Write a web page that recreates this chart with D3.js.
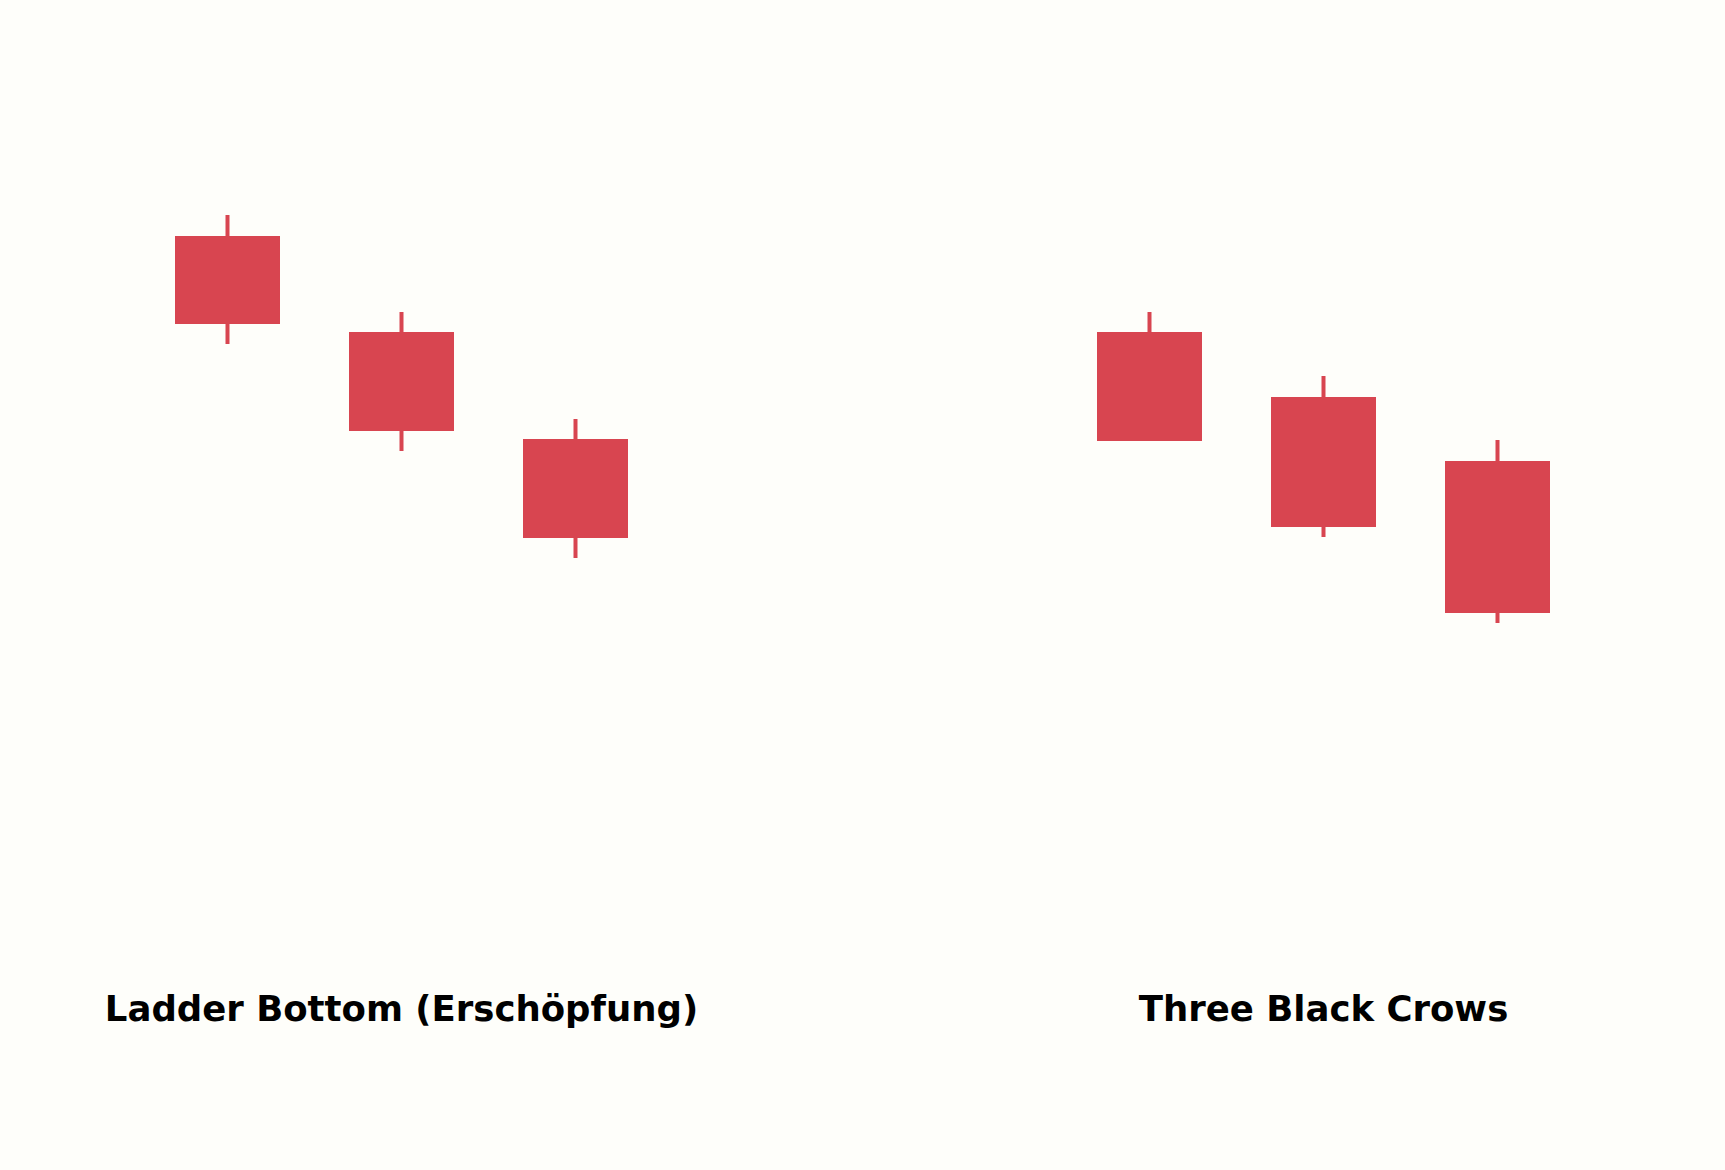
<!DOCTYPE html>
<html>
<head>
<meta charset="utf-8">
<script src="https://cdn.jsdelivr.net/npm/d3@7"></script>
<style>
  body { margin: 0; background: #fefefa; }
  svg { display: block; }
</style>
</head>
<body>
<div id="chart"></div>
<script>
// Panel titles
let patterns = ['Ladder Bottom (Erschöpfung)', 'Three Black Crows'];

// Candles per pattern (open, high, low, close)
let ladderOpen  = [97.9, 88.3, 77.6];
let ladderHigh  = [100.0, 90.3, 79.6];
let ladderLow   = [87.1, 76.4, 65.7];
let ladderClose = [89.1, 78.4, 67.7];

let crowsOpen  = [88.3, 81.8, 75.4];
let crowsHigh  = [90.3, 83.9, 77.5];
let crowsLow   = [77.4, 67.8, 59.2];
let crowsClose = [77.4, 68.8, 60.2];

let svgWidth = 1725;
let svgHeight = 1170;

let svg = d3.select('#chart')
    .append('svg')
    .attr('width', svgWidth)
    .attr('height', svgHeight);

svg.append('rect')
    .attr('width', svgWidth)
    .attr('height', svgHeight)
    .attr('fill', '#fefefa');

// shared price scale
let yScale = d3.scaleLinear()
    .domain([0, 100])
    .range([1215, 215]);

let candleColor = '#d84550';
let bodyWidth = 105;

// centres of the two panels
let panelX = d3.scalePoint()
    .domain(patterns)
    .range([401.5, 1323.5]);

function toCandles(o, h, l, c) {
    return o.map((d, i) => ({ i: i, open: o[i], high: h[i], low: l[i], close: c[i] }));
}

let panels = [
    toCandles(ladderOpen, ladderHigh, ladderLow, ladderClose),
    toCandles(crowsOpen, crowsHigh, crowsLow, crowsClose)
];

panels.forEach(function(candles, p) {
    let cx = panelX(patterns[p]);
    let xScale = d3.scalePoint()
        .domain(candles.map(d => d.i))
        .range([cx - 174, cx + 174]);

    let g = svg.append('g');

    // wicks
    g.selectAll('line.wick')
        .data(candles)
        .enter()
        .append('line')
        .attr('class', 'wick')
        .attr('x1', d => xScale(d.i))
        .attr('x2', d => xScale(d.i))
        .attr('y1', d => yScale(d.high))
        .attr('y2', d => yScale(d.low))
        .attr('stroke', candleColor)
        .attr('stroke-width', 4);

    // bodies
    g.selectAll('rect.body')
        .data(candles)
        .enter()
        .append('rect')
        .attr('class', 'body')
        .attr('x', d => xScale(d.i) - bodyWidth / 2)
        .attr('y', d => yScale(Math.max(d.open, d.close)))
        .attr('width', bodyWidth)
        .attr('height', d => Math.abs(yScale(d.open) - yScale(d.close)))
        .attr('fill', candleColor);

    // title below
    svg.append('text')
        .attr('x', cx)
        .attr('y', 1021)
        .attr('text-anchor', 'middle')
        .style('font-family', 'DejaVu Sans')
        .style('font-weight', 'bold')
        .style('font-size', '35.5px')
        .attr('fill', '#000')
        .text(patterns[p]);
});
</script>
</body>
</html>
